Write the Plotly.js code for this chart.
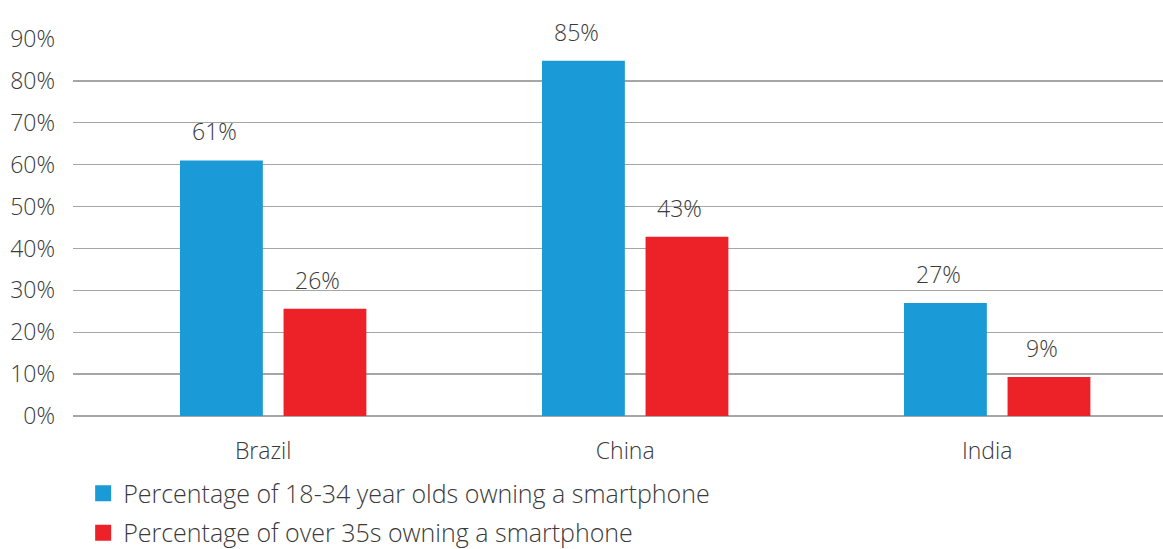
<!DOCTYPE html>
<html>
<head>
<meta charset="utf-8">
<script src="https://cdn.plot.ly/plotly-3.0.1.min.js"></script>
<style>html,body{margin:0;padding:0;background:#fff;}#chart{width:1163px;height:549px;}</style>
</head>
<body>
<div id="chart"></div>
<script>
const categories = ["Brazil", "China", "India"];
const youngLabel = "Percentage of 18-34 year olds owning a smartphone";
const olderLabel = "Percentage of over 35s owning a smartphone";
const youngValues = [61, 84.8, 27];
const olderValues = [25.6, 42.8, 9.3];
const yTickVals = [0, 10, 20, 30, 40, 50, 60, 70, 80, 90];
const yTickText = ["0%", "10%", "20%", "30%", "40%", "50%", "60%", "70%", "80%", "90%"];

const BLUE = "#1a9ad6";
const RED = "#ed2128";
const TXT = "#3a3a3a";
const FONT = {family: "Open Sans, Lato, sans-serif", size: 23, color: TXT, weight: 300};
const LFONT = {family: "Open Sans, Lato, sans-serif", size: 25, color: TXT, weight: 300};

const traces = [
  {type: "bar", x: categories.map((c, i) => i), y: youngValues, marker: {color: BLUE}, showlegend: false, hoverinfo: "skip"},
  {type: "bar", x: categories.map((c, i) => i), y: olderValues, marker: {color: RED}, showlegend: false, hoverinfo: "skip"},
  {type: "scatter", mode: "markers", x: [null], y: [null], name: youngLabel, legendgroup: "a",
   marker: {symbol: "square", size: 16, color: BLUE}},
  {type: "scatter", mode: "markers", x: [null], y: [null], name: olderLabel, legendgroup: "b",
   marker: {symbol: "square", size: 16, color: RED}}
];

const slot = 0.286;
const annotations = [];
categories.forEach((c, i) => {
  [[youngValues, -1], [olderValues, 1]].forEach(([arr, side]) => {
    annotations.push({
      x: i + side * slot / 2, y: arr[i], xref: "x", yref: "y",
      text: Math.round(arr[i]) + "%", showarrow: false,
      yanchor: "bottom", yshift: 11, xshift: -7, font: FONT
    });
  });
});

const layout = {
  width: 1163, height: 549,
  margin: {l: 73, r: 0, t: 39, b: 132.5, autoexpand: false},
  paper_bgcolor: "#fff", plot_bgcolor: "#fff",
  font: FONT,
  barmode: "group", bargap: 0.428, bargroupgap: 0.2,
  xaxis: {
    type: "linear", range: [-0.553, 2.458],
    tickvals: [0, 1, 2], ticktext: categories,
    showgrid: false, zeroline: false, showline: false, ticks: "",
    ticklabelshift: -10, ticklabelstandoff: 19,
    tickfont: FONT
  },
  yaxis: {
    range: [0, 90], tickvals: yTickVals, ticktext: yTickText,
    showgrid: true, gridcolor: "#a6a6a6", gridwidth: 1.3,
    zeroline: true, zerolinecolor: "#a6a6a6", zerolinewidth: 1.3,
    showline: false, ticks: "", ticklabelstandoff: 17,
    tickfont: FONT
  },
  legend: {
    orientation: "v", xref: "container", yref: "container",
    x: 0.0715, y: 0.143, xanchor: "left", yanchor: "top",
    tracegroupgap: 4, font: LFONT, bgcolor: "rgba(0,0,0,0)"
  },
  annotations: annotations
};

Plotly.newPlot("chart", traces, layout, {displayModeBar: false, staticPlot: true});
</script>
</body>
</html>
